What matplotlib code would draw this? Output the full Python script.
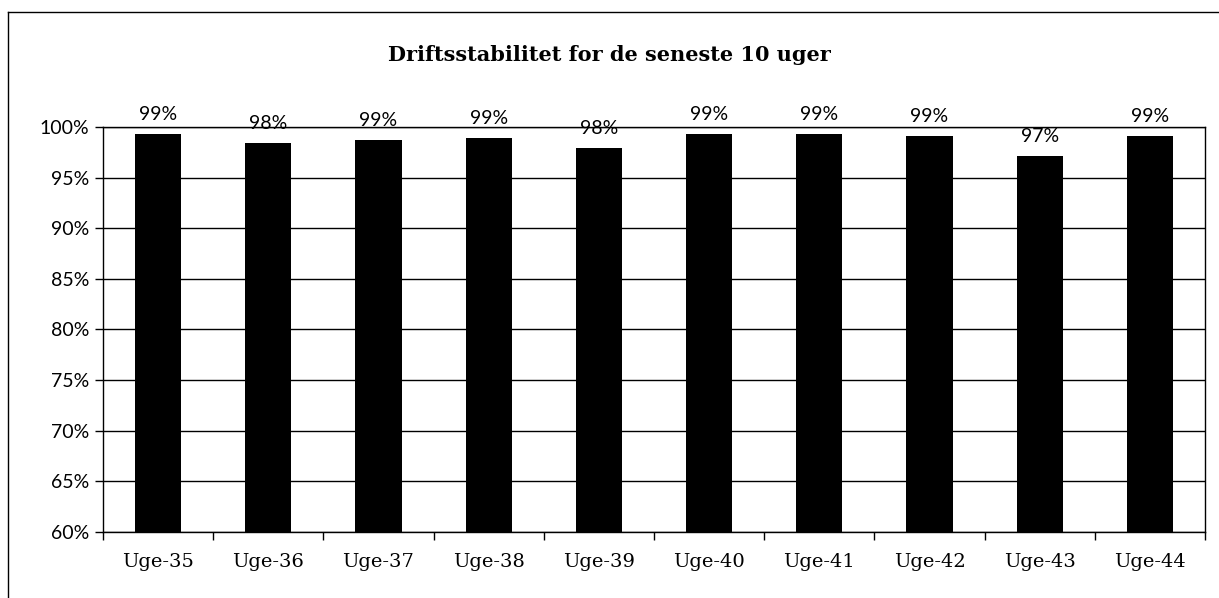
import numpy as np
import matplotlib.pyplot as plt
from matplotlib.lines import Line2D

uger = ['Uge-35', 'Uge-36', 'Uge-37', 'Uge-38', 'Uge-39',
        'Uge-40', 'Uge-41', 'Uge-42', 'Uge-43', 'Uge-44']
stabilitet = [99.3, 98.4, 98.7, 98.9, 97.9, 99.3, 99.3, 99.1, 97.1, 99.1]
etiketter = ['99%', '98%', '99%', '99%', '98%', '99%', '99%', '99%', '97%', '99%']
y_ticks = [60, 65, 70, 75, 80, 85, 90, 95, 100]

fig = plt.figure(figsize=(12.19, 5.98), dpi=100)
ax = fig.add_axes([0.0845, 0.1104, 0.904, 0.6772])

x = np.arange(len(uger))
ax.bar(x, stabilitet, width=0.42, color='black', zorder=3)

# etiketter over søjlerne
for xi, v, t in zip(x, stabilitet, etiketter):
    ax.text(xi, v + 1.1, t, ha='center', va='bottom', fontsize=14,
            family='Lato', clip_on=False, zorder=4)

ax.set_xlim(-0.5, 9.5)
ax.set_ylim(60, 100)
ax.set_yticks(y_ticks)
ax.set_yticklabels(['%d%%' % t for t in y_ticks], family='Lato', fontsize=14)
ax.set_xticks(x)
ax.set_xticklabels(uger, family='DejaVu Serif', fontsize=14)
ax.set_xticks(np.arange(-0.5, 10, 1), minor=True)
ax.tick_params(axis='x', which='major', length=0, pad=15)
ax.tick_params(axis='x', which='minor', length=6, width=1, direction='out')
ax.tick_params(axis='y', length=6, width=1, direction='out', pad=4)

ax.grid(axis='y', color='black', linewidth=1, zorder=0)
for s in ax.spines.values():
    s.set_color('black')
    s.set_linewidth(1)

fig.suptitle('Driftsstabilitet for de seneste 10 uger', x=0.5, y=0.925,
             family='DejaVu Serif', fontweight='bold', fontsize=15)

# ramme rundt om diagrammet
fig.add_artist(Line2D([8/1219, 1], [1 - 12/598, 1 - 12/598], color='black', lw=1))
fig.add_artist(Line2D([8/1219, 8/1219], [0, 1 - 12/598], color='black', lw=1))

fig.savefig('out.png', dpi=100, facecolor='white')
